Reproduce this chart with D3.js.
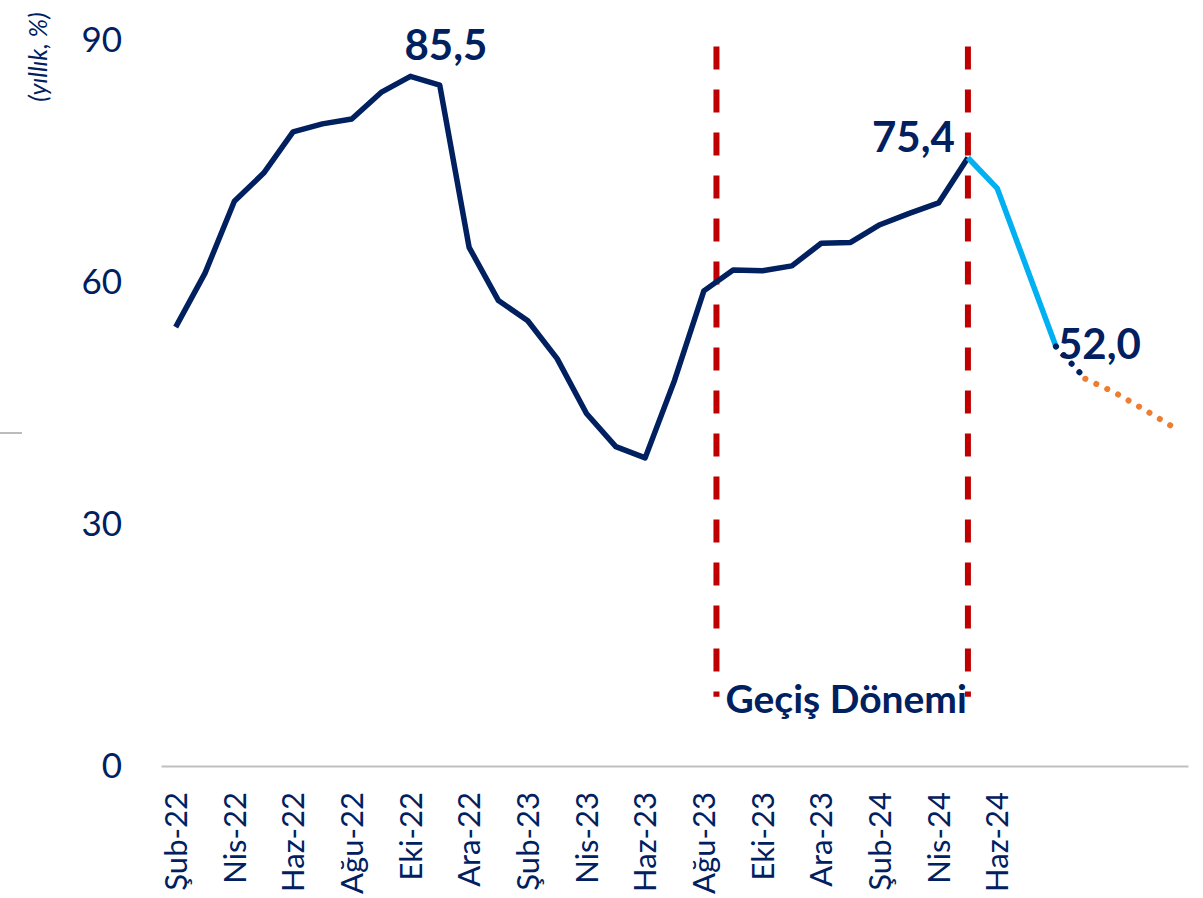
<!DOCTYPE html>
<html>
<head>
<meta charset="utf-8">
<script src="https://cdn.jsdelivr.net/npm/d3@7"></script>
<style>
  body { margin: 0; background: #fff; }
  svg text { font-family: Lato, "Open Sans", sans-serif; fill: #002060; }
</style>
</head>
<body>
<div class="grafico"></div>
<script>
// aylar (Şub-22 .. Ara-24)
const aylar = ["Şub-22","Mar-22","Nis-22","May-22","Haz-22","Tem-22","Ağu-22","Eyl-22","Eki-22","Kas-22","Ara-22",
  "Oca-23","Şub-23","Mar-23","Nis-23","May-23","Haz-23","Tem-23","Ağu-23","Eyl-23","Eki-23","Kas-23","Ara-23",
  "Oca-24","Şub-24","Mar-24","Nis-24","May-24","Haz-24","Tem-24","Ağu-24","Eyl-24","Eki-24","Kas-24","Ara-24"];

// eksende yazan etiketler
const etiketler = ["Şub-22","Nis-22","Haz-22","Ağu-22","Eki-22","Ara-22","Şub-23","Nis-23","Haz-23",
  "Ağu-23","Eki-23","Ara-23","Şub-24","Nis-24","Haz-24"];

const yTicks = [0, 30, 60, 90];

// gerçekleşen enflasyon
const gerceklesenAy = aylar.slice(0, 28);
const gerceklesen = [54.4, 61.1, 70.0, 73.5, 78.6, 79.6, 80.2, 83.5, 85.5, 84.4, 64.3,
  57.7, 55.2, 50.5, 43.7, 39.6, 38.2, 47.8, 58.9, 61.5, 61.4, 62.0, 64.8,
  64.9, 67.1, 68.5, 69.8, 75.4];

// dezenflasyon dönemi
const dususAy = ["May-24","Haz-24","Tem-24","Ağu-24"];
const dusus = [75.4, 71.6, 61.8, 52.0];

// tahmin (lacivert noktalı)
const tahmin1Ay = ["Ağu-24","Eyl-24"];
const tahmin1 = [52.0, 48.0];

// tahmin (turuncu noktalı)
const tahmin2Ay = ["Eyl-24","Eki-24","Kas-24","Ara-24"];
const tahmin2 = [48.0, 46.3, 44.2, 42.0];

// değer etiketleri
const etiketAy = ["Eki-22","May-24","Ağu-24"];
const etiketDeger = [85.5, 75.4, 52.0];
const etiketYazi = ["85,5","75,4","52,0"];

const width = 1203, height = 898;

const svg = d3.select(".grafico").append("svg")
  .attr("width", width)
  .attr("height", height);

const xScale = d3.scaleBand()
  .domain(aylar)
  .range([161, 1188]);

const yScale = d3.scaleLinear()
  .domain([0, 90])
  .range([766, 40]);

const xc = function(a) { return xScale(a) + xScale.bandwidth() / 2; };

// sol kenardaki artık çizgi
svg.append("line")
  .attr("x1", 0).attr("x2", 22)
  .attr("y1", 433).attr("y2", 433)
  .attr("stroke", "#A6A6A6").attr("stroke-width", 1.5);

// X ekseni
const xAxis = svg.append("g")
  .attr("transform", "translate(0," + yScale(0) + ")")
  .call(d3.axisBottom(xScale).tickValues(etiketler).tickSize(0).tickSizeOuter(0));
xAxis.select(".domain").attr("stroke", "#BFBFBF").attr("stroke-width", 2);
xAxis.selectAll("text")
  .attr("transform", "rotate(-90)")
  .attr("text-anchor", "end")
  .attr("x", -26)
  .attr("y", 0)
  .attr("dy", "0.36em")
  .style("font-size", "31px")
  .style("fill", "#002060");

// Y ekseni (sadece etiketler)
const yAxis = svg.append("g")
  .attr("transform", "translate(122,0)")
  .call(d3.axisLeft(yScale).tickValues(yTicks).tickSize(0));
yAxis.select(".domain").remove();
yAxis.selectAll("text")
  .attr("x", 0)
  .style("font-size", "35px")
  .style("fill", "#002060");

svg.append("text")
  .attr("transform", "translate(47,57) rotate(-90)")
  .attr("text-anchor", "middle")
  .style("font-size", "25px")
  .style("font-style", "italic")
  .text("(yıllık, %)");

// geçiş dönemi çizgileri
const dikeyler = [xc("Ağu-23") + xScale.step() * 0.43, xc("May-24")];
svg.selectAll(".dikey")
  .data(dikeyler)
  .enter().append("line")
  .attr("x1", d => d).attr("x2", d => d)
  .attr("y1", yScale(89.2)).attr("y2", yScale(8.6))
  .attr("stroke", "#C00000")
  .attr("stroke-width", 6)
  .attr("stroke-dasharray", "23 20");

svg.append("text")
  .attr("x", (dikeyler[0] + dikeyler[1]) / 2 + 4)
  .attr("y", yScale(6.6))
  .attr("text-anchor", "middle")
  .style("font-size", "39px")
  .style("font-weight", "bold")
  .text("Geçiş Dönemi");

const line = d3.line()
  .x(d => xc(d.ay))
  .y(d => yScale(d.v));

function seri(aylarList, degerler) {
  return aylarList.map((a, i) => ({ ay: a, v: degerler[i] }));
}

svg.append("path")
  .datum(seri(gerceklesenAy, gerceklesen))
  .attr("fill", "none")
  .attr("stroke", "#002060")
  .attr("stroke-width", 5.5)
  .attr("stroke-linejoin", "round")
  .attr("d", line);

svg.append("path")
  .datum(seri(dususAy, dusus))
  .attr("fill", "none")
  .attr("stroke", "#00B0F0")
  .attr("stroke-width", 5.5)
  .attr("stroke-linejoin", "round")
  .attr("d", line);

svg.append("path")
  .datum(seri(tahmin1Ay, tahmin1))
  .attr("fill", "none")
  .attr("stroke", "#002060")
  .attr("stroke-width", 6)
  .attr("stroke-linecap", "round")
  .attr("stroke-dasharray", "0.1 11.5")
  .attr("d", line);

svg.append("path")
  .datum(seri(tahmin2Ay, tahmin2))
  .attr("fill", "none")
  .attr("stroke", "#ED7D31")
  .attr("stroke-width", 6)
  .attr("stroke-linecap", "round")
  .attr("stroke-dasharray", "0.1 12")
  .attr("d", line);

// değer etiketleri
const etiketAyar = [
  { dx: -6, dy: -16, anchor: "start" },
  { dx: -13, dy: -6, anchor: "end" },
  { dx: 2, dy: 12, anchor: "start" }
];
svg.selectAll(".deger")
  .data(etiketYazi)
  .enter().append("text")
  .attr("x", (d, i) => xc(etiketAy[i]) + etiketAyar[i].dx)
  .attr("y", (d, i) => yScale(etiketDeger[i]) + etiketAyar[i].dy)
  .attr("text-anchor", (d, i) => etiketAyar[i].anchor)
  .style("font-size", "42px")
  .style("font-weight", "bold")
  .text(d => d);
</script>
</body>
</html>
